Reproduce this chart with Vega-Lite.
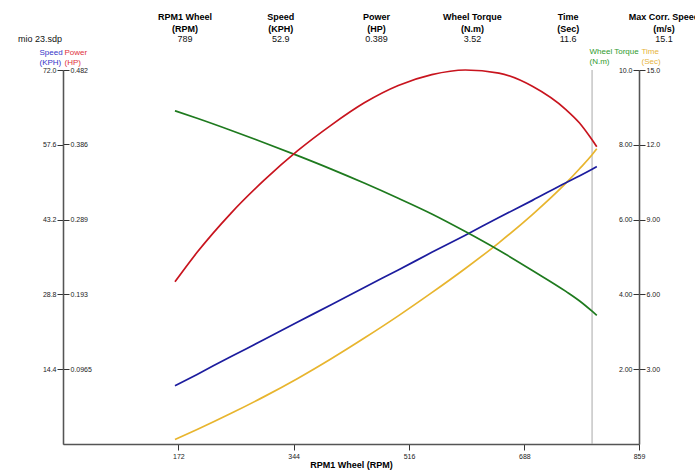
{
  "$schema": "https://vega.github.io/schema/vega-lite/v6.json",
  "width": 576,
  "height": 374,
  "autosize": {"type": "none"},
  "padding": {"left": 63, "top": 70, "right": 56, "bottom": 26},
  "background": "white",
  "config": {
    "view": {"stroke": null},
    "font": "Liberation Sans",
    "axis": {
      "grid": false,
      "domainColor": "#555555",
      "domainWidth": 1.3,
      "tickColor": "#333333",
      "tickSize": 6,
      "tickWidth": 1,
      "labelFont": "Liberation Sans",
      "labelFontSize": 7,
      "labelColor": "#222222",
      "labelPadding": 1,
      "labelFlush": false,
      "labelOverlap": false,
      "labelBound": false,
      "titleFont": "Liberation Sans"
    }
  },
  "datasets": {
    "curves": [
      {"rpm": 167, "speed": 11.2, "power": 0.209, "torque": 8.91, "time": 0.18},
      {"rpm": 200, "speed": 13.4, "power": 0.247, "torque": 8.71, "time": 0.58},
      {"rpm": 250, "speed": 16.8, "power": 0.297, "torque": 8.39, "time": 1.22},
      {"rpm": 300, "speed": 20.1, "power": 0.340, "torque": 8.055, "time": 1.90},
      {"rpm": 350, "speed": 23.5, "power": 0.378, "torque": 7.71, "time": 2.63},
      {"rpm": 400, "speed": 26.8, "power": 0.411, "torque": 7.35, "time": 3.42},
      {"rpm": 450, "speed": 30.2, "power": 0.440, "torque": 6.97, "time": 4.26},
      {"rpm": 500, "speed": 33.5, "power": 0.462, "torque": 6.57, "time": 5.14},
      {"rpm": 550, "speed": 36.9, "power": 0.476, "torque": 6.15, "time": 6.07},
      {"rpm": 600, "speed": 40.2, "power": 0.482, "torque": 5.68, "time": 7.04},
      {"rpm": 650, "speed": 43.6, "power": 0.478, "torque": 5.18, "time": 8.07},
      {"rpm": 700, "speed": 46.9, "power": 0.461, "torque": 4.64, "time": 9.20},
      {"rpm": 750, "speed": 50.3, "power": 0.431, "torque": 4.08, "time": 10.46},
      {"rpm": 770, "speed": 51.6, "power": 0.414, "torque": 3.83, "time": 11.03},
      {"rpm": 789, "speed": 52.9, "power": 0.392, "torque": 3.55, "time": 11.60},
      {"rpm": 796, "speed": 53.4, "power": 0.383, "torque": 3.44, "time": 11.84}
    ],
    "header": [
      {"col": "RPM1 Wheel", "head": "RPM1 Wheel\n(RPM)", "val": "789"},
      {"col": "Speed", "head": "Speed\n(KPH)", "val": "52.9"},
      {"col": "Power", "head": "Power\n(HP)", "val": "0.389"},
      {"col": "Wheel Torque", "head": "Wheel Torque\n(N.m)", "val": "3.52"},
      {"col": "Time", "head": "Time\n(Sec)", "val": "11.6"},
      {"col": "Max Corr. Speed", "head": "Max Corr. Speed\n(m/s)", "val": "15.1"}
    ],
    "file": [{"name": "mio 23.sdp"}],
    "cursor": [{"rpm": 789}]
  },
  "layer": [
    {
      "data": {"name": "cursor"},
      "mark": {"type": "rule", "color": "#a8a8a8", "strokeWidth": 1},
      "encoding": {
        "x": {"field": "rpm", "type": "quantitative", "scale": {"domain": [0, 859], "nice": false, "zero": false}, "axis": null}
      }
    },
    {
      "data": {"name": "curves"},
      "mark": {"type": "line", "color": "#e8b52e", "strokeWidth": 1.7, "interpolate": "monotone"},
      "encoding": {
        "x": {"field": "rpm", "type": "quantitative", "scale": {"domain": [0, 859], "nice": false, "zero": false}, "axis": null},
        "y": {"field": "time", "type": "quantitative", "scale": {"domain": [0, 15], "nice": false},
          "axis": {"orient": "right", "offset": 0, "values": [3, 6, 9, 12, 15], "format": ".3r",
            "title": ["Time", "(Sec)"], "titleColor": "#e6b43c", "titleAngle": 0, "titleAlign": "left",
            "titleX": 2, "titleY": -17, "titleBaseline": "alphabetic", "titleFontSize": 8,
            "titleFontWeight": "normal", "titleLineHeight": 10}}
      }
    },
    {
      "data": {"name": "curves"},
      "mark": {"type": "line", "color": "#1c1c9e", "strokeWidth": 1.7, "interpolate": "monotone"},
      "encoding": {
        "x": {"field": "rpm", "type": "quantitative", "scale": {"domain": [0, 859], "nice": false, "zero": false},
          "axis": {"values": [172, 344, 516, 688, 859], "format": "d", "title": "RPM1 Wheel (RPM)",
            "titleFontSize": 9, "titleFontWeight": "bold", "titleColor": "#000000", "titleY": 23,
            "titleBaseline": "alphabetic", "labelPadding": 2}},
        "y": {"field": "speed", "type": "quantitative", "scale": {"domain": [0, 72], "nice": false},
          "axis": {"orient": "left", "values": [14.4, 28.8, 43.2, 57.6, 72], "format": ".1f",
            "title": ["Speed", "(KPH)"], "titleColor": "#3434c8", "titleAngle": 0, "titleAlign": "left",
            "titleX": -24, "titleY": -16, "titleBaseline": "alphabetic", "titleFontSize": 8,
            "titleFontWeight": "normal", "titleLineHeight": 10}}
      }
    },
    {
      "data": {"name": "curves"},
      "mark": {"type": "line", "color": "#1e7a1e", "strokeWidth": 1.7, "interpolate": "monotone"},
      "encoding": {
        "x": {"field": "rpm", "type": "quantitative", "scale": {"domain": [0, 859], "nice": false, "zero": false}, "axis": null},
        "y": {"field": "torque", "type": "quantitative", "scale": {"domain": [0, 10], "nice": false},
          "axis": {"orient": "left", "offset": -576, "values": [2, 4, 6, 8, 10], "format": ".3r",
            "title": ["Wheel Torque", "(N.m)"], "titleColor": "#2e9a2e", "titleAngle": 0, "titleAlign": "left",
            "titleX": -50, "titleY": -17, "titleBaseline": "alphabetic", "titleFontSize": 8,
            "titleFontWeight": "normal", "titleLineHeight": 10}}
      }
    },
    {
      "data": {"name": "curves"},
      "mark": {"type": "line", "color": "#c8141e", "strokeWidth": 1.7, "interpolate": "monotone"},
      "encoding": {
        "x": {"field": "rpm", "type": "quantitative", "scale": {"domain": [0, 859], "nice": false, "zero": false}, "axis": null},
        "y": {"field": "power", "type": "quantitative", "scale": {"domain": [0, 0.482], "nice": false},
          "axis": {"orient": "right", "offset": -576, "values": [0.0965, 0.193, 0.289, 0.386, 0.482], "format": ".3r",
            "title": ["Power", "(HP)"], "titleColor": "#e0323c", "titleAngle": 0, "titleAlign": "left",
            "titleX": 1, "titleY": -16, "titleBaseline": "alphabetic", "titleFontSize": 8,
            "titleFontWeight": "normal", "titleLineHeight": 10}}
      }
    },
    {
      "data": {"name": "header"},
      "mark": {"type": "text", "font": "Liberation Sans", "fontWeight": "bold", "fontSize": 9, "lineBreak": "\n", "lineHeight": 12, "align": "center", "baseline": "alphabetic", "color": "#000000"},
      "encoding": {
        "x": {"field": "col", "type": "nominal", "scale": {"type": "point", "domain": ["RPM1 Wheel", "Speed", "Power", "Wheel Torque", "Time", "Max Corr. Speed"], "range": [122, 601], "padding": 0}, "axis": null},
        "y": {"datum": "head", "type": "nominal", "scale": {"type": "point", "domain": ["head", "val"], "range": [-50, -28], "padding": 0}, "axis": null},
        "text": {"field": "head", "type": "nominal"}
      }
    },
    {
      "data": {"name": "header"},
      "mark": {"type": "text", "font": "Liberation Sans", "fontSize": 9, "align": "center", "baseline": "alphabetic", "color": "#111111"},
      "encoding": {
        "x": {"field": "col", "type": "nominal", "scale": {"type": "point", "domain": ["RPM1 Wheel", "Speed", "Power", "Wheel Torque", "Time", "Max Corr. Speed"], "range": [122, 601], "padding": 0}, "axis": null},
        "y": {"datum": "val", "type": "nominal", "scale": {"type": "point", "domain": ["head", "val"], "range": [-50, -28], "padding": 0}, "axis": null},
        "text": {"field": "val", "type": "nominal"}
      }
    },
    {
      "data": {"name": "file"},
      "mark": {"type": "text", "font": "Liberation Sans", "fontSize": 9, "align": "left", "baseline": "alphabetic", "color": "#111111"},
      "encoding": {
        "x": {"field": "name", "type": "nominal", "scale": {"type": "point", "domain": ["mio 23.sdp"], "range": [-45, -45], "padding": 0}, "axis": null},
        "y": {"datum": "val", "type": "nominal", "scale": {"type": "point", "domain": ["head", "val"], "range": [-50, -28], "padding": 0}, "axis": null},
        "text": {"field": "name", "type": "nominal"}
      }
    }
  ],
  "resolve": {"scale": {"x": "independent", "y": "independent"}}
}
